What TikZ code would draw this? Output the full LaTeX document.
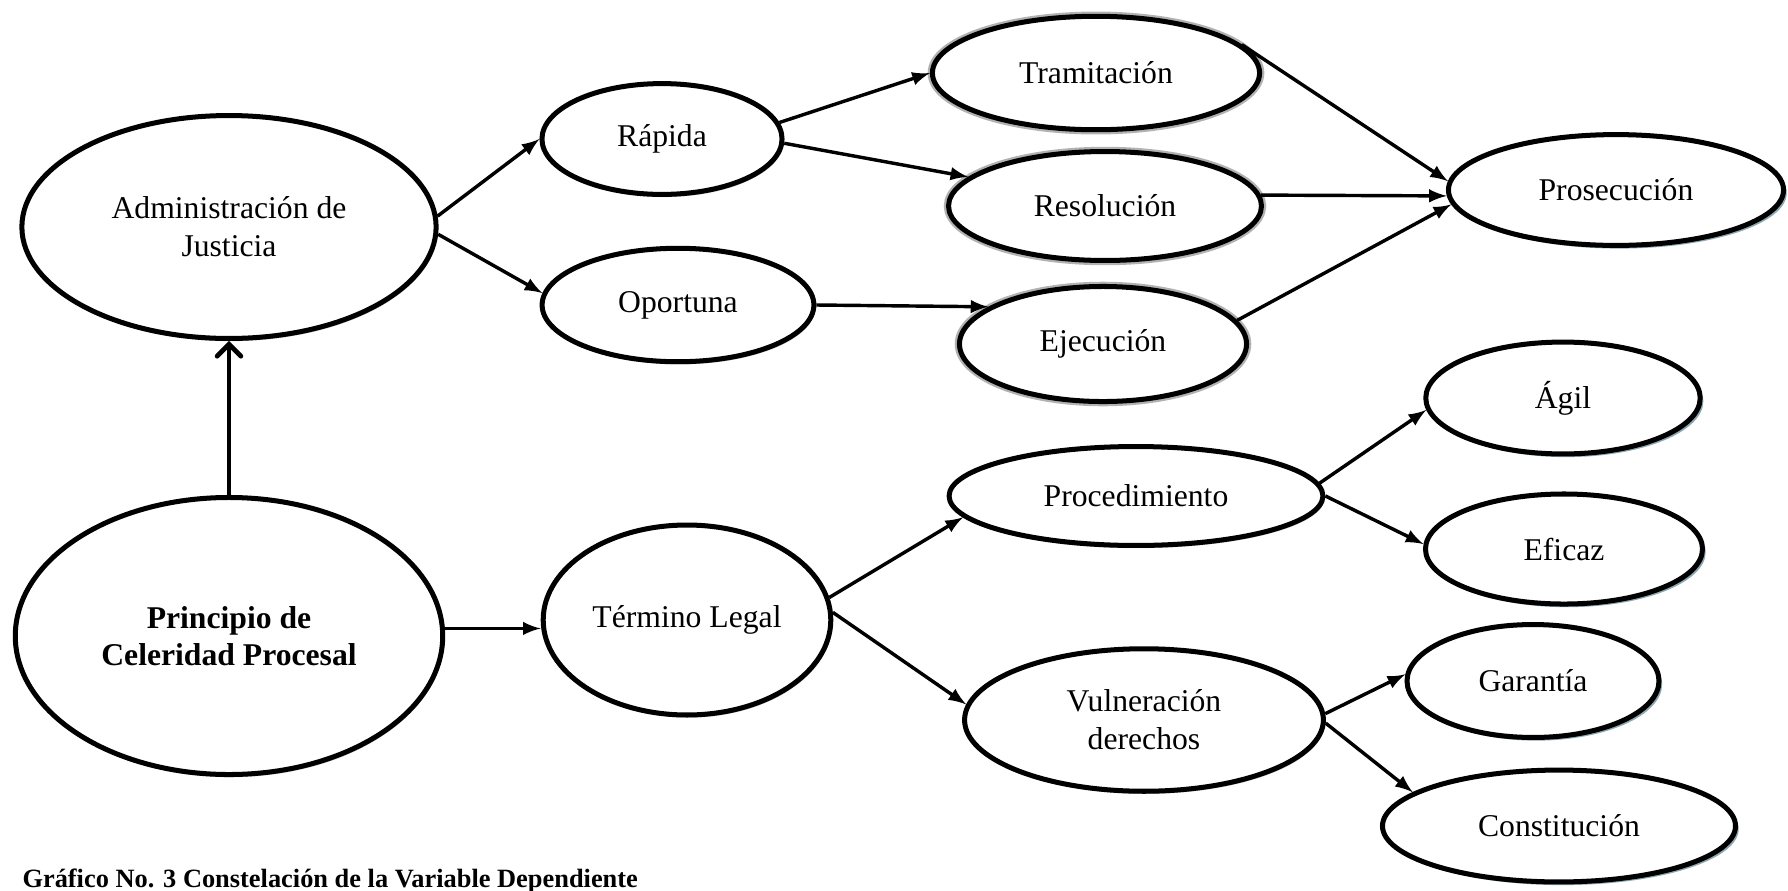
\documentclass[tikz,border=0pt]{standalone}
\usepackage{fontspec}
\setmainfont{Liberation Serif}
\usetikzlibrary{arrows,shapes,positioning,shadows}
\definecolor{shadowblue}{RGB}{140,168,178}
\tikzset{
  basic/.style    = {draw, ellipse, line width=1.9pt, fill=white, inner sep=0pt,
                     align=center, font=\fontsize{12}{14.5}\selectfont},
  oval/.style     = {basic, drop shadow={shadow xshift=0.5pt, shadow yshift=-1pt,
                     fill=black!40, opacity=0.6}},
  blueoval/.style = {basic, drop shadow={shadow xshift=1.2pt, shadow yshift=-1.2pt,
                     fill=shadowblue, opacity=1}},
  fuzzy/.style    = {basic, preaction={draw=black!30, line width=3.6pt}},
  link/.style     = {->, line width=1.3pt}
}

\begin{document}
\begin{tikzpicture}[x=0.379pt, y=-0.379pt, >=latex]
\useasboundingbox (0,0) rectangle (1788,890);

% first column
\node[oval, minimum width=157pt, minimum height=84.5pt] (adm) at (229,227)
  {Administración de\\Justicia};
\node[oval, minimum width=162pt, minimum height=105pt,
      font=\fontsize{12}{14}\selectfont\bfseries] (pcp) at (229,636)
  {Principio de\\Celeridad Procesal};

% second column
\node[oval, minimum width=91pt, minimum height=42pt] (rap) at (662,139) {Rápida};
\node[oval, minimum width=103pt, minimum height=43pt] (opo) at (678,305) {Oportuna};
\node[oval, minimum width=109pt, minimum height=72pt] (ter) at (687,620) {Término Legal};

% third column
\node[fuzzy, minimum width=124pt, minimum height=43pt] (tra) at (1096,73) {Tramitación};
\node[fuzzy, minimum width=118.6pt, minimum height=41.3pt] (res) at (1105,206) {Resolución};
\node[fuzzy, minimum width=108.8pt, minimum height=43.6pt] (eje) at (1103,344) {Ejecución};
\node[oval, minimum width=141.7pt, minimum height=37.5pt] (prc) at (1136,496) {Procedimiento};
\node[oval, minimum width=136pt, minimum height=54pt] (vul) at (1144,720)
  {Vulneración\\derechos};

% fourth column
\node[blueoval, minimum width=127pt, minimum height=42pt] (pro) at (1616,190) {Prosecución};
\node[blueoval, minimum width=104pt, minimum height=42.4pt] (agi) at (1563,398) {Ágil};
\node[blueoval, minimum width=105pt, minimum height=41.7pt] (efi) at (1564,549) {Eficaz};
\node[blueoval, minimum width=95.5pt, minimum height=42.8pt] (gar) at (1533,681) {Garantía};
\node[blueoval, minimum width=133.8pt, minimum height=42.4pt] (con) at (1559,826) {Constitución};

% caption
\node[anchor=base west, inner sep=0pt, font=\fontsize{10}{12}\selectfont\bfseries]
  (cap) at (22,887) {Gráfico No. 3 Constelación de la Variable Dependiente};

% connectors
\draw[-angle 90, line width=1.8pt] (pcp.north) -- (adm.south);
\draw[link] (pcp.2) -- (pcp.2 -| ter.west);
\draw[link] (opo.east) -- (eje.162);

\foreach \a/\b in {adm.3/rap.west, adm.358/opo.175, rap.8/tra.west, rap.358/res.168,
                   ter.9/prc.187, ter.3/vul.175, prc.4/agi.185, prc.east/efi.178,
                   vul.2/gar.177, vul.359/con.167,
                   tra.11/pro.177, res.4/pro.182, eje.10/pro.185}
  \draw[link] (\a) -- (\b);
\end{tikzpicture}
\end{document}
